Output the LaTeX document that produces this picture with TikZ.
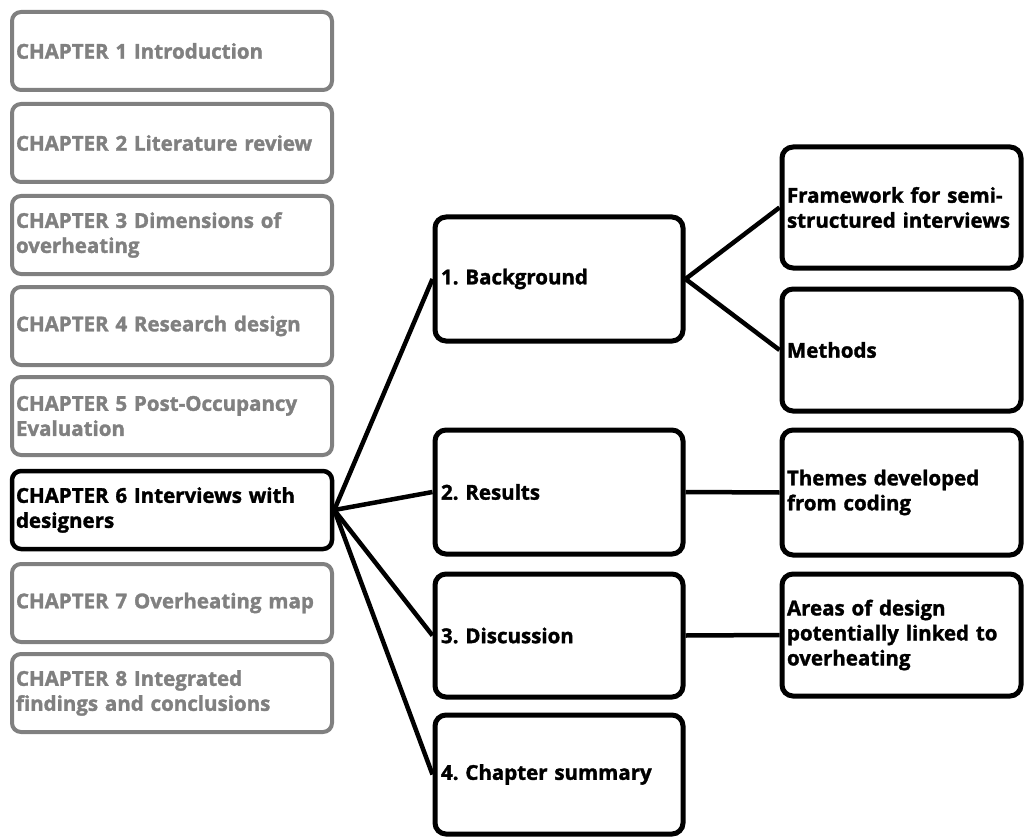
\documentclass[tikz,border=0pt]{standalone}
\usepackage{fontspec}
\setmainfont{Open Sans}[BoldFeatures={FakeBold=1.6}]
\definecolor{dimgrey}{RGB}{128,128,128}
\begin{document}
\frenchspacing
\begin{tikzpicture}[x=1pt,y=-1pt,
  every node/.style={font=\bfseries\fontsize{20.5}{25}\selectfont},
  chapbox/.style={draw=dimgrey, text=dimgrey, line width=4pt, rounded corners=9pt,
    text width=312pt, align=left, inner xsep=4pt, minimum height=78pt},
  currbox/.style={chapbox, draw=black, text=black, line width=4.5pt},
  secbox/.style={draw=black, line width=5pt, rounded corners=11pt,
    text width=236pt, align=left, inner xsep=6pt},
  subbox/.style={draw=black, line width=5pt, rounded corners=11pt,
    text width=229pt, align=left, inner xsep=5pt},
  link/.style={line width=4.5pt}]
\useasboundingbox (0,0) rectangle (1025,837);

% chapter list
\node[chapbox] (c1) at (172,51)  {CHAPTER 1 Introduction};
\node[chapbox] (c2) at (172,143) {CHAPTER 2 Literature review};
\node[chapbox] (c3) at (172,235) {CHAPTER 3 Dimensions of\\overheating};
\node[chapbox] (c4) at (172,326) {CHAPTER 4 Research design};
\node[chapbox] (c5) at (172,416) {CHAPTER 5 Post-Occupancy\\Evaluation};
\node[currbox] (c6) at (172,510) {CHAPTER 6 Interviews with\\designers};
\node[chapbox] (c7) at (172,603) {CHAPTER 7 Overheating map};
\node[chapbox] (c8) at (172,693) {CHAPTER 8 Integrated\\findings and conclusions};

% sections of chapter 6
\node[secbox, minimum height=124pt] (s1) at (559,279)   {1. Background};
\node[secbox, minimum height=124pt] (s2) at (559,492)   {2. Results};
\node[secbox, minimum height=123pt] (s3) at (559,635.5) {3. Discussion};
\node[secbox, minimum height=119pt] (s4) at (559,774.5) {4. Chapter summary};

% subsections
\node[subbox, minimum height=121pt] (f1) at (901.5,207.5) {Framework for semi-\\structured interviews};
\node[subbox, minimum height=122pt] (f2) at (901.5,350)   {Methods};
\node[subbox, minimum height=125pt] (f3) at (901.5,492.5) {Themes developed\\from coding};
\node[subbox, minimum height=122pt] (f4) at (901.5,635)   {Areas of design\\potentially linked to\\overheating};

% connectors
\foreach \s in {s1,s2,s3,s4} \draw[link] (c6.east) -- (\s.west);
\draw[link] (s1.east) -- (f1.west);
\draw[link] (s1.east) -- (f2.west);
\draw[link] (s2.east) -- (f3.west);
\draw[link] (s3.east) -- (f4.west);
\end{tikzpicture}
\end{document}
